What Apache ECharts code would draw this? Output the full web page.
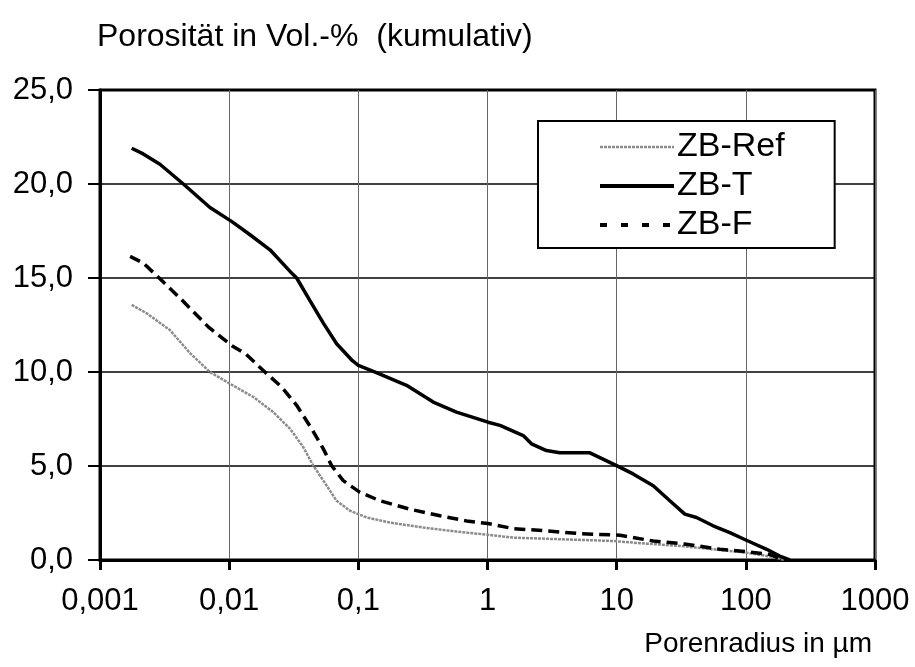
<!DOCTYPE html>
<html>
<head>
<meta charset="utf-8">
<script src="https://cdn.jsdelivr.net/npm/echarts@6/dist/echarts.min.js"></script>
<style>
html,body{margin:0;padding:0;background:#fff;}
#chart{width:915px;height:667px;}
</style>
</head>
<body>
<div id="chart"></div>
<script>
// Pore radius (µm) and cumulative porosity (Vol.-%)
const refX = [0.00176,0.0023,0.00348,0.00498,0.0071,0.0101,0.0154,0.0219,0.0296,0.0375,0.0448,0.0536,0.0679,0.0861,0.116,0.176,0.318,0.575,1.01,1.58,3.85,9.4,17,30.8,55.8,101,163,200];
const refY = [13.57,13.12,12.23,11.0,10.0,9.38,8.67,7.87,6.98,6.0,5.02,4.22,3.15,2.62,2.26,1.99,1.73,1.51,1.34,1.19,1.1,1.01,0.87,0.75,0.57,0.39,0.16,0.0];

const tX = [0.00176,0.00216,0.00291,0.00442,0.0071,0.0105,0.0145,0.0207,0.0296,0.0333,0.0422,0.0536,0.0679,0.09,0.1,0.138,0.236,0.38,0.575,1.01,1.25,1.89,2.19,2.86,3.63,6.21,9.98,13.4,19.2,25.8,33.7,41.5,55.8,75.2,101,145,183,219];
const tY = [21.9,21.6,21.05,20.0,18.75,18.0,17.3,16.5,15.35,15.0,13.8,12.6,11.5,10.6,10.35,9.97,9.29,8.4,7.87,7.33,7.16,6.62,6.18,5.82,5.7,5.7,5.02,4.58,3.95,3.15,2.44,2.26,1.82,1.46,1.05,0.57,0.21,0.0];

const fX = [0.00171,0.00216,0.00291,0.00429,0.00689,0.0105,0.0135,0.0189,0.0255,0.0333,0.0435,0.0536,0.0621,0.0764,0.103,0.147,0.251,0.429,0.689,1.01,1.58,2.86,5.19,10.6,19.2,34.7,63,101,153,195];
const fY = [16.15,15.8,14.96,13.84,12.4,11.4,10.95,10.0,9.2,8.23,6.98,5.91,5.02,4.22,3.6,3.15,2.7,2.35,2.08,1.94,1.67,1.55,1.4,1.32,1.01,0.84,0.57,0.44,0.3,0.0];

const seriesNames = ['ZB-Ref','ZB-T','ZB-F'];
const xTickLabels = ['0,001','0,01','0,1','1','10','100','1000'];
const yTickValues = [0,5,10,15,20,25];

const zip = (xs, ys) => xs.map((x, i) => [x, ys[i]]);
const FONT = '"Liberation Sans", Arial, sans-serif';

const lineStyles = [
  {color: '#8c8c8c', width: 2.5, type: [3, 1]},
  {color: '#000', width: 3.5, type: 'solid'},
  {color: '#000', width: 3.5, type: [11, 6]}
];
const legendLineStyles = [
  {color: '#8c8c8c', width: 2.5, type: [3, 1], opacity: 1},
  {color: '#000', width: 4, type: 'solid', opacity: 1},
  {color: '#000', width: 4, type: [7, 14], opacity: 1}
];

const chart = echarts.init(document.getElementById('chart'), null, {renderer: 'canvas'});
chart.setOption({
  animation: false,
  backgroundColor: '#fff',
  title: [
    {text: 'Porosität in Vol.-%  (kumulativ)', left: 97, top: 21, padding: 0,
     textStyle: {fontFamily: FONT, fontSize: 32, fontWeight: 'normal', color: '#000'}},
    {text: 'Porenradius in µm', right: 43, top: 630, padding: 0,
     textStyle: {fontFamily: FONT, fontSize: 28, fontWeight: 'normal', color: '#000'}}
  ],
  grid: {left: 100, top: 90, width: 775, height: 470, show: true,
         borderColor: '#000', borderWidth: 3, backgroundColor: 'transparent'},
  legend: {
    show: true, orient: 'vertical', left: 538, top: 121,
    padding: [9, 50, 6, 60], itemGap: 5, itemWidth: 74, itemHeight: 32,
    backgroundColor: '#fff', borderColor: '#000', borderWidth: 2, borderRadius: 0,
    itemStyle: {color: 'transparent', borderWidth: 0, opacity: 0},
    textStyle: {fontFamily: FONT, fontSize: 34, color: '#000', padding: [0,0,0,-2]},
    data: seriesNames.map((n, i) => ({name: n, lineStyle: legendLineStyles[i],
      itemStyle: {color: 'transparent', borderWidth: 0, opacity: 0}}))
  },
  xAxis: {
    type: 'log', logBase: 10, min: 0.001, max: 1000,
    axisLine: {show: true, onZero: false, lineStyle: {color: '#000', width: 3}},
    axisTick: {show: true, inside: false, length: 10, lineStyle: {color: '#000', width: 3}},
    minorTick: {show: false},
    axisLabel: {margin: 26, fontFamily: FONT, fontSize: 31, color: '#000',
      formatter: v => xTickLabels[Math.round(Math.log10(v)) + 3]},
    splitLine: {show: true, lineStyle: {color: '#666', width: 1}}
  },
  yAxis: {
    type: 'value', min: 0, max: 25, interval: 5,
    axisLine: {show: true, lineStyle: {color: '#000', width: 3}},
    axisTick: {show: true, inside: false, length: 12, lineStyle: {color: '#000', width: 2}},
    axisLabel: {margin: 27, fontFamily: FONT, fontSize: 31, color: '#000',
      formatter: v => (yTickValues.includes(v) ? v.toFixed(1).replace('.', ',') : '')},
    splitLine: {show: true, lineStyle: {color: '#000', width: 1.5}}
  },
  series: [
    {name: seriesNames[0], type: 'line', data: zip(refX, refY), showSymbol: false, symbol: 'none',
     lineStyle: lineStyles[0], itemStyle: {color: lineStyles[0].color}, z: 3},
    {name: seriesNames[1], type: 'line', data: zip(tX, tY), showSymbol: false, symbol: 'none',
     lineStyle: lineStyles[1], itemStyle: {color: lineStyles[1].color}, z: 4},
    {name: seriesNames[2], type: 'line', data: zip(fX, fY), showSymbol: false, symbol: 'none',
     lineStyle: lineStyles[2], itemStyle: {color: lineStyles[2].color}, z: 5}
  ]
});
</script>
</body>
</html>
